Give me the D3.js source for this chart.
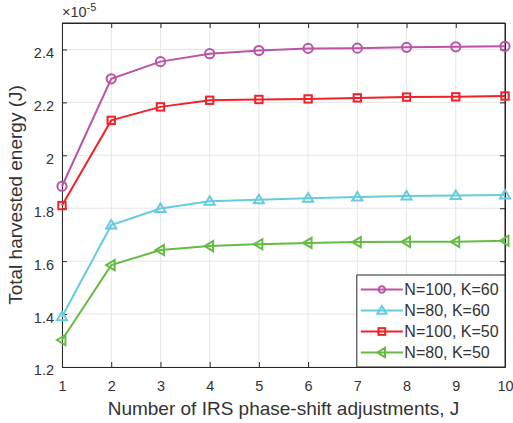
<!DOCTYPE html>
<html>
<head>
<meta charset="utf-8">
<script src="https://cdn.jsdelivr.net/npm/d3@7"></script>
<style>
  body { margin: 0; background: #fff; }
  text { font-family: "Liberation Sans", Arial, sans-serif; fill: #333; }
</style>
</head>
<body>
<div id="chart"></div>
<script>
// Data (values in units of 1e-5 J)
let jValues = [1, 2, 3, 4, 5, 6, 7, 8, 9, 10];
let seriesNames = ["N=100, K=60", "N=80, K=60", "N=100, K=50", "N=80, K=50"];
let n100k60 = [1.883, 2.289, 2.354, 2.384, 2.396, 2.404, 2.405, 2.408, 2.410, 2.412];
let n80k60  = [1.390, 1.736, 1.799, 1.826, 1.832, 1.838, 1.842, 1.846, 1.848, 1.850];
let n100k50 = [1.810, 2.132, 2.183, 2.208, 2.211, 2.213, 2.217, 2.220, 2.221, 2.224];
let n80k50  = [1.302, 1.585, 1.642, 1.657, 1.664, 1.669, 1.672, 1.673, 1.673, 1.677];
let yTicks = [1.2, 1.4, 1.6, 1.8, 2, 2.2, 2.4];

// Series styling (drawing order matches the legend)
let series = [
    {name: seriesNames[0], values: n100k60, color: "#b954a7", marker: "circle"},
    {name: seriesNames[1], values: n80k60, color: "#66ccdd", marker: "triangleUp"},
    {name: seriesNames[2], values: n100k50, color: "#f0222a", marker: "square"},
    {name: seriesNames[3], values: n80k50, color: "#66bb44", marker: "triangleLeft"}
];

let W = 513, H = 423;
let margin = {top: 23, right: 8, bottom: 56, left: 62};
let width = W - margin.left - margin.right,
    height = H - margin.top - margin.bottom;

let svg = d3.select("#chart").append("svg")
    .attr("width", W)
    .attr("height", H);

let g = svg.append("g")
    .attr("transform", "translate(" + margin.left + "," + margin.top + ")");

let x = d3.scaleLinear().domain([1, 10]).range([0, width]);
let y = d3.scaleLinear().domain([1.2, 2.5]).range([height, 0]);

// Grid
g.append("g").selectAll("line")
    .data(jValues)
    .enter().append("line")
    .attr("x1", d => x(d)).attr("x2", d => x(d))
    .attr("y1", 0).attr("y2", height)
    .attr("stroke", "#e6e6e6").attr("stroke-width", 1);
g.append("g").selectAll("line")
    .data(yTicks)
    .enter().append("line")
    .attr("x1", 0).attr("x2", width)
    .attr("y1", d => y(d)).attr("y2", d => y(d))
    .attr("stroke", "#e6e6e6").attr("stroke-width", 1);

// Axes (ticks point inward, MATLAB style)
let xAxis = g.append("g")
    .attr("transform", "translate(0," + height + ")")
    .call(d3.axisBottom(x).tickValues(jValues).tickSize(-5).tickPadding(14).tickSizeOuter(0));
let yAxis = g.append("g")
    .call(d3.axisLeft(y).tickValues(yTicks).tickFormat(d3.format("")).tickSize(-5).tickPadding(8).tickSizeOuter(0));
let xTop = g.append("g")
    .call(d3.axisTop(x).tickValues(jValues).tickSize(-5).tickFormat("").tickSizeOuter(0));
let yRight = g.append("g")
    .attr("transform", "translate(" + width + ",0)")
    .call(d3.axisRight(y).tickValues(yTicks).tickSize(-5).tickFormat("").tickSizeOuter(0));

[xAxis, yAxis, xTop, yRight].forEach(function(a) {
    a.select(".domain").attr("stroke", "#262626").attr("stroke-width", 1);
    a.selectAll(".tick line").attr("stroke", "#262626");
    a.selectAll(".tick text").style("font-size", "14.5px").attr("fill", "#333");
});
yAxis.selectAll(".tick text").attr("dy", "0.55em");

// Box lines at the top and right ends
g.append("line").attr("x1", 0).attr("x2", width).attr("y1", 0).attr("y2", 0).attr("stroke", "#262626");
g.append("line").attr("x1", width).attr("x2", width).attr("y1", 0).attr("y2", height).attr("stroke", "#262626");

// Marker shapes
function drawMarker(sel, type, color, s) {
    if (type === "circle") {
        sel.append("circle").attr("r", s).attr("fill", "none")
            .attr("stroke", color).attr("stroke-width", 2);
    } else if (type === "square") {
        sel.append("rect").attr("x", -s * 0.8).attr("y", -s * 0.8)
            .attr("width", s * 1.6).attr("height", s * 1.6)
            .attr("fill", "none").attr("stroke", color).attr("stroke-width", 2);
    } else if (type === "triangleUp") {
        sel.append("path").attr("d", "M0," + (-s * 1.1) + "L" + (s * 1.1) + "," + (s * 0.75) + "L" + (-s * 1.1) + "," + (s * 0.75) + "Z")
            .attr("fill", "none").attr("stroke", color).attr("stroke-width", 2);
    } else if (type === "triangleLeft") {
        sel.append("path").attr("d", "M" + (-s * 1.1) + ",0L" + (s * 0.75) + "," + (-s * 1.1) + "L" + (s * 0.75) + "," + (s * 1.1) + "Z")
            .attr("fill", "none").attr("stroke", color).attr("stroke-width", 2);
    }
}

let line = d3.line()
    .x((d, i) => x(jValues[i]))
    .y(d => y(d));

series.forEach(function(s) {
    g.append("path")
        .datum(s.values)
        .attr("d", line)
        .attr("fill", "none")
        .attr("stroke", s.color)
        .attr("stroke-width", 2);
    g.selectAll(null)
        .data(s.values)
        .enter().append("g")
        .attr("transform", (d, i) => "translate(" + x(jValues[i]) + "," + y(d) + ")")
        .each(function() { drawMarker(d3.select(this), s.marker, s.color, 4.6); });
});

// Exponent label
let expo = svg.append("text")
    .attr("x", margin.left)
    .attr("y", 17)
    .style("font-size", "14.5px");
expo.append("tspan").text("\u00d710");
expo.append("tspan").attr("dy", -6).style("font-size", "11px").text("-5");

// Axis labels
svg.append("text")
    .attr("x", margin.left + width / 2)
    .attr("y", 415)
    .attr("text-anchor", "middle")
    .style("font-size", "19px")
    .text("Number of IRS phase-shift adjustments, J");
svg.append("text")
    .attr("transform", "translate(22," + (margin.top + height / 2) + ") rotate(-90)")
    .attr("text-anchor", "middle")
    .style("font-size", "19px")
    .text("Total harvested energy (J)");

// Legend
let lg = g.append("g").attr("transform", "translate(" + (x(7) - 0.5) + "," + (y(1.2) - 92) + ")");
lg.append("rect")
    .attr("width", width - x(7) + 0.5)
    .attr("height", 92)
    .attr("fill", "#fff")
    .attr("stroke", "#262626")
    .attr("stroke-width", 1);
series.forEach(function(s, i) {
    let row = lg.append("g").attr("transform", "translate(0," + (14.5 + i * 21) + ")");
    row.append("line").attr("x1", 4).attr("x2", 46).attr("stroke", s.color).attr("stroke-width", 2);
    let m = row.append("g").attr("transform", "translate(25,0)");
    drawMarker(m, s.marker, s.color, s.marker === "circle" ? 3.2 : 4.2);
    row.append("text")
        .attr("x", 47.5)
        .attr("dy", "0.36em")
        .style("font-size", "16px")
        .text(s.name);
});
</script>
</body>
</html>
